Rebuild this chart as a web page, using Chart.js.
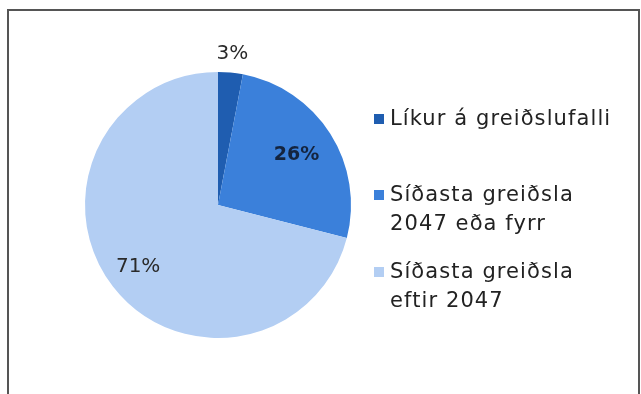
<!DOCTYPE html>
<html>
<head>
<meta charset="utf-8">
<script src="https://cdn.jsdelivr.net/npm/chart.js@4.4.1/dist/chart.umd.min.js"></script>
<style>
  html, body { margin: 0; padding: 0; background: #fff; }
  #wrap { position: relative; width: 641px; height: 394px; overflow: hidden; }
  #frame {
    position: absolute; left: 7px; top: 9px; width: 633px; height: 400px;
    border-left: 2px solid #555; border-top: 2px solid #555; border-right: 2px solid #555;
    box-sizing: border-box;
  }
  #chart { position: absolute; left: 0; top: 0; }
  #legend {
    position: absolute; left: 374px; top: 0; margin: 0; padding: 0; list-style: none;
    font-family: "DejaVu Sans", sans-serif; font-size: 21px; letter-spacing: 1.1px;
    color: #222; line-height: 29px;
  }
  #legend li { position: absolute; left: 0; white-space: nowrap; }
  #legend .box { position: absolute; left: 0; top: 10px; width: 10px; height: 10px; }
  #legend .txt { position: absolute; left: 16px; top: 0; }
</style>
</head>
<body>
<div id="wrap">
  <div id="frame"></div>
  <canvas id="chart" width="641" height="394"></canvas>
  <ul id="legend"></ul>
</div>
<script>
// Share of loans by outcome
const categories = [
  ["Líkur á greiðslufalli"],
  ["Síðasta greiðsla", "2047 eða fyrr"],
  ["Síðasta greiðsla", "eftir 2047"]
];
const shares = [3, 26, 71];
const valueLabels = ["3%", "26%", "71%"];
const sliceColors = ["#1f5db0", "#3b80da", "#b3cef3"];

// where each percentage sits, as a fraction of the radius from the centre
const labelRadius = [1.14, 0.70, 0.76];
const labelFonts = ["normal 20px 'DejaVu Sans', sans-serif", "bold 19px 'DejaVu Sans', sans-serif", "normal 20px 'DejaVu Sans', sans-serif"];
const labelColors = ["#2a2a2a", "#14243f", "#2a2a2a"];
// vertical position of the first text line of each legend entry
const legendTops = [104, 180, 257];

const sliceLabels = {
  id: 'sliceLabels',
  afterDatasetsDraw(chart) {
    const ctx = chart.ctx;
    const meta = chart.getDatasetMeta(0);
    meta.data.forEach((arc, i) => {
      const mid = (arc.startAngle + arc.endAngle) / 2;
      const r = arc.outerRadius * labelRadius[i];
      const x = arc.x + Math.cos(mid) * r;
      const y = arc.y + Math.sin(mid) * r;
      ctx.save();
      ctx.font = labelFonts[i];
      ctx.fillStyle = labelColors[i];
      ctx.textAlign = 'center';
      ctx.textBaseline = 'middle';
      ctx.fillText(valueLabels[i], x, y);
      ctx.restore();
    });
  }
};

const htmlLegend = {
  id: 'htmlLegend',
  afterUpdate(chart) {
    const ul = document.getElementById('legend');
    ul.innerHTML = '';
    const items = chart.options.plugins.legend.labels.generateLabels(chart);
    items.forEach((item, i) => {
      const li = document.createElement('li');
      li.style.top = legendTops[i] + 'px';
      const box = document.createElement('span');
      box.className = 'box';
      box.style.background = item.fillStyle;
      const txt = document.createElement('span');
      txt.className = 'txt';
      txt.innerHTML = categories[i].map(s => s.replace(/&/g, '&amp;')).join('<br>');
      li.appendChild(box);
      li.appendChild(txt);
      ul.appendChild(li);
    });
  }
};

new Chart(document.getElementById('chart'), {
  type: 'pie',
  data: {
    labels: categories.map(c => c.join(' ')),
    datasets: [{
      data: shares,
      backgroundColor: sliceColors,
      borderWidth: 0
    }]
  },
  options: {
    responsive: false,
    animation: false,
    layout: { padding: { left: 85, right: 290, top: 72, bottom: 56 } },
    plugins: {
      legend: { display: false },
      tooltip: { enabled: false }
    }
  },
  plugins: [sliceLabels, htmlLegend]
});
</script>
</body>
</html>
